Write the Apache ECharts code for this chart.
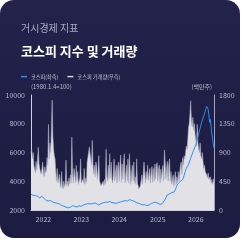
<!DOCTYPE html>
<html>
<head>
<meta charset="utf-8">
<script src="https://cdn.jsdelivr.net/npm/echarts@6/dist/echarts.min.js"></script>
<style>
  html, body { margin: 0; padding: 0; background: #ffffff; }
  .card {
    position: absolute; left: 0; top: 0; width: 240px; height: 238px;
    border-radius: 14px; overflow: hidden;
    background: linear-gradient(180deg, #23224b 0%, #1c1b41 100%);
  }
  #chart { width: 240px; height: 238px; }
</style>
</head>
<body>
<div class="card"><div id="chart"></div></div>
<script>
// weekly points, first week starts 2021-09-06
const startWeek = '2021-09-06';

const kospi = [
  3100, 3080, 3050, 3020, 3000, 2990, 3010, 2980, 2960, 2950,
  2930, 2880, 2850, 2870, 2900, 2950, 2960, 2900, 2800, 2700,
  2680, 2650, 2620, 2600, 2640, 2660, 2670, 2650, 2620, 2580,
  2550, 2560, 2520, 2500, 2510, 2480, 2470, 2460, 2450, 2420,
  2350, 2330, 2310, 2300, 2290, 2270, 2250, 2220, 2200, 2180,
  2170, 2150, 2140, 2150, 2200, 2250, 2280, 2300, 2300, 2280,
  2250, 2240, 2230, 2210, 2200, 2250, 2300, 2280, 2260, 2250,
  2300, 2330, 2350, 2370, 2380, 2400, 2410, 2420, 2440, 2450,
  2450, 2430, 2410, 2400, 2430, 2450, 2470, 2490, 2500, 2480,
  2440, 2420, 2380, 2350, 2380, 2420, 2450, 2470, 2490, 2500,
  2520, 2540, 2550, 2530, 2500, 2540, 2580, 2600, 2580, 2560,
  2550, 2520, 2500, 2480, 2490, 2500, 2480, 2460, 2450, 2480,
  2520, 2530, 2550, 2560, 2580, 2600, 2610, 2630, 2640, 2650,
  2640, 2620, 2620, 2660, 2700, 2720, 2700, 2680, 2670, 2660,
  2650, 2620, 2580, 2550, 2520, 2500, 2480, 2470, 2450, 2430,
  2420, 2400, 2380, 2350, 2360, 2370, 2380, 2340, 2320, 2300,
  2320, 2340, 2350, 2380, 2420, 2450, 2480, 2500, 2520, 2540,
  2550, 2530, 2510, 2500, 2470, 2450, 2420, 2390, 2350, 2380,
  2450, 2500, 2580, 2650, 2750, 2850, 2950, 3050, 3080, 3100,
  3120, 3150, 3200, 3210, 3190, 3200, 3250, 3320, 3400, 3550,
  3700, 3780, 3850, 3900, 3950, 4000, 4050, 4100, 4120, 4150,
  4400, 4600, 4750, 4900, 4850, 5000, 5150, 5250, 5450, 5600,
  5750, 5850, 6000, 6150, 6250, 6400, 6550, 6700, 6900, 7100,
  7300, 7500, 7700, 7900, 8100, 8250, 8400, 8550, 8700, 8900,
  9050, 9200, 9250, 9000, 8600, 8100, 8300, 7800, 7300, 7000, 6600, 6300
];

const volume = [
  880, 950, 800, 900, 700, 640, 580, 760, 620, 800,
  980, 720, 650, 600, 560, 640, 750, 600, 520, 680,
  580, 620, 820, 700, 1340, 800, 1050, 900, 1250, 1720,
  1150, 950, 850, 800, 600, 450, 650, 420, 480, 560,
  420, 350, 600, 380, 330, 450, 360, 420, 780, 380,
  450, 360, 500, 400, 550, 420, 1140, 600, 420, 650,
  550, 420, 700, 450, 600, 400, 380, 500, 800, 420,
  400, 480, 420, 650, 400, 500, 430, 750, 820, 900,
  985, 880, 800, 700, 1090, 720, 560, 700, 520, 750,
  680, 480, 620, 850, 460, 420, 380, 370, 350, 450,
  380, 480, 400, 950, 520, 450, 700, 480, 880, 500,
  750, 480, 420, 580, 800, 450, 600, 700, 420, 680,
  750, 450, 700, 860, 430, 720, 480, 750, 880, 420,
  400, 700, 450, 800, 420, 880, 650, 400, 580, 700,
  450, 750, 420, 520, 400, 800, 420, 380, 330, 300,
  380, 450, 550, 400, 380, 750, 720, 420, 600, 480,
  700, 450, 560, 650, 420, 600, 680, 430, 650, 450,
  720, 480, 700, 740, 450, 650, 700, 420, 640, 480,
  620, 700, 450, 940, 750, 480, 650, 760, 450, 700,
  800, 450, 600, 400, 380, 550, 370, 350, 600, 400,
  520, 420, 600, 450, 580, 700, 750, 560, 820, 700,
  850, 800, 900, 1000, 950, 1100, 1290, 1350, 1500, 1710,
  1400, 1300, 1450, 1250, 1350, 1200, 1100, 1000, 1340, 1050,
  950, 900, 1050, 850, 800, 900, 750, 650, 700, 600,
  620, 550, 500, 580, 480, 450, 520, 420, 480, 400, 450, 500
];

const leftTicks = [2000, 10000, 2000];   // min, max, interval
const rightTicks = [0, 1800, 450];

const weeks = [];
const d0 = new Date(startWeek + 'T00:00:00Z');
for (let i = 0; i < kospi.length; i++) {
  const d = new Date(d0.getTime() + i * 7 * 86400000);
  weeks.push(d.toISOString().slice(0, 10));
}

const font = '"Noto Sans CJK KR", "Noto Sans", sans-serif';
const labelColor = '#b9b9cc';

const chart = echarts.init(document.getElementById('chart'), null, { renderer: 'canvas' });

chart.setOption({
  backgroundColor: 'transparent',
  animation: false,
  textStyle: { fontFamily: font },
  title: [
    {
      text: '거시경제 지표', left: 16, top: 18,
      textStyle: { color: '#a9a9c3', fontSize: 10, fontWeight: 'normal', fontFamily: font }
    },
    {
      text: '코스피 지수 및 거래량', left: 16, top: 40,
      textStyle: { color: '#ffffff', fontSize: 13, fontWeight: 'bold', fontFamily: font }
    }
  ],
  legend: {
    left: 16, top: 69,
    itemWidth: 6, itemHeight: 1.5, itemGap: 9,
    icon: 'rect',
    textStyle: { color: '#c4c4d6', fontSize: 5.2, fontFamily: font, padding: [0, 0, 0, -1] },
    data: [
      { name: '코스피(좌축)', itemStyle: { color: '#2b8ef2' } },
      { name: '코스피 거래량(우측)', itemStyle: { color: '#d6d6e0' } }
    ]
  },
  grid: { left: 31, right: 26, top: 95, bottom: 28 },
  xAxis: {
    type: 'category',
    data: weeks,
    boundaryGap: false,
    axisLine: { show: true, lineStyle: { color: '#cfd0da', width: 1 } },
    axisTick: { show: false },
    axisLabel: {
      color: labelColor, fontSize: 7, margin: 6, fontFamily: font,
      interval: (idx, val) => val.slice(5, 7) === '01' && Number(val.slice(8, 10)) <= 7,
      formatter: (val) => val.slice(0, 4)
    },
    splitLine: { show: false }
  },
  yAxis: [
    {
      type: 'value',
      min: leftTicks[0], max: leftTicks[1], interval: leftTicks[2],
      name: '(1980.1.4=100)',
      nameLocation: 'end', nameGap: 5,
      nameTextStyle: { color: labelColor, fontSize: 6, align: 'left', padding: [0, 0, 0, 0], fontFamily: font },
      axisLine: { show: true, lineStyle: { color: '#cfd0da', width: 1 } },
      axisTick: { show: false },
      axisLabel: { color: labelColor, fontSize: 7, margin: 6, fontFamily: font, formatter: (v) => String(v) },
      splitLine: { show: false }
    },
    {
      type: 'value',
      min: rightTicks[0], max: rightTicks[1], interval: rightTicks[2],
      name: '(백만주)',
      nameLocation: 'end', nameGap: 5,
      nameTextStyle: { color: labelColor, fontSize: 6, align: 'right', padding: [0, 2, 0, 0], fontFamily: font },
      axisLine: { show: true, lineStyle: { color: '#a4a4b4', width: 1 } },
      axisTick: { show: false },
      axisLabel: { color: labelColor, fontSize: 7, margin: 5, fontFamily: font, formatter: (v) => String(v) },
      splitLine: { show: false }
    }
  ],
  series: [
    {
      name: '코스피 거래량(우측)',
      type: 'line',
      yAxisIndex: 1,
      data: volume,
      showSymbol: false,
      lineStyle: { color: 'rgba(175, 175, 195, 0.8)', width: 0.7 },
      areaStyle: {
        color: new echarts.graphic.LinearGradient(0, 0, 0, 1, [
          { offset: 0, color: 'rgba(235, 235, 240, 0.95)' },
          { offset: 1, color: '#e2e2e6' }
        ]),
        opacity: 1
      },
      z: 1
    },
    {
      name: '코스피(좌축)',
      type: 'line',
      yAxisIndex: 0,
      data: kospi,
      showSymbol: false,
      lineStyle: { color: '#2b8ef2', width: 1 },
      itemStyle: { color: '#2b8ef2' },
      z: 3
    }
  ]
});
</script>
</body>
</html>
